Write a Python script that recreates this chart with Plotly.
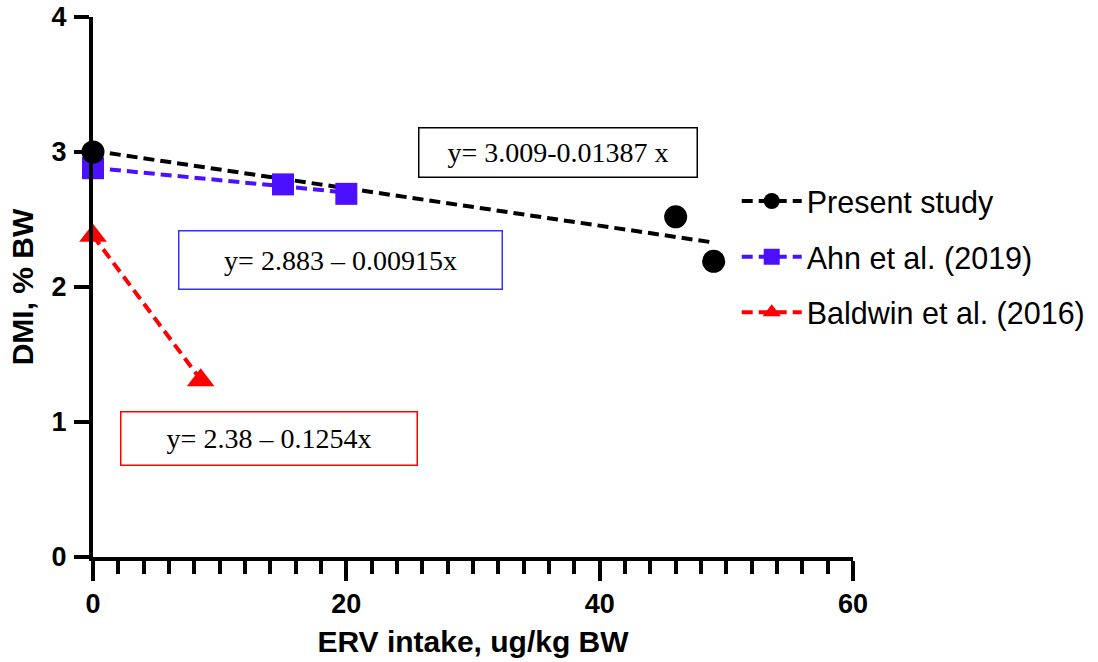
import plotly.graph_objects as go

# ---- data ----
present_x = [0, 46, 49]
present_y = [3.0, 2.52, 2.19]
ahn_x = [0, 15, 20]
ahn_y = [2.88, 2.76, 2.69]
baldwin_x = [0, 8.5]
baldwin_y = [2.38, 1.31]

series_names = ["Present study", "Ahn et al. (2019)", "Baldwin et al. (2016)"]
intercepts = [3.009, 2.883, 2.38]
slopes = [-0.01387, -0.00915, -0.1254]
equations = ["y= 3.009-0.01387 x", "y= 2.883 – 0.00915x", "y= 2.38 – 0.1254x"]

x_ticks = [0, 20, 40, 60]
y_ticks = [0, 1, 2, 3, 4]

colors = ["#000000", "#4a10ff", "#ff0000"]
box_colors = ["#000000", "#3030ff", "#ff0000"]
symbols = ["circle", "square", "triangle-up"]
msizes = [23, 22, 24]

xs = [present_x, ahn_x, baldwin_x]
ys = [present_y, ahn_y, baldwin_y]

fig = go.Figure()

# fit lines
for i in range(3):
    x_end = max(xs[i])
    fx = [0, x_end]
    fy = [intercepts[i] + slopes[i] * v for v in fx]
    fig.add_trace(go.Scatter(
        x=fx, y=fy, mode="lines",
        line=dict(color=colors[i], width=4, dash="11px,6px"),
        showlegend=False, hoverinfo="skip", cliponaxis=False))

# points (draw order: baldwin, ahn, present on top)
for i in [2, 1, 0]:
    fig.add_trace(go.Scatter(
        x=xs[i], y=ys[i], mode="markers",
        marker=dict(symbol=symbols[i], size=msizes[i], color=colors[i]),
        showlegend=False, cliponaxis=False))

# legend entries
for i in range(3):
    fig.add_trace(go.Scatter(
        x=[None], y=[None], mode="lines+markers", name=series_names[i],
        line=dict(color=colors[i], width=4, dash="11px,6px"),
        marker=dict(symbol=symbols[i], size=msizes[i] - 2, color=colors[i]),
        legendgroup=series_names[i]))

# equation boxes
eq_pos = [(36.7, 3.0, 280, 51), (19.5, 2.2, 325, 60), (13.9, 0.878, 298, 55)]
for i in range(3):
    ex, ey, w, h = eq_pos[i]
    fig.add_annotation(
        x=ex, y=ey, xref="x", yref="y", text=equations[i], showarrow=False,
        font=dict(family="Liberation Serif", size=28, color="#000"),
        bordercolor=box_colors[i], borderwidth=1.5, borderpad=0,
        width=w - 3, height=h - 3, bgcolor="rgba(255,255,255,0)")

fig.update_layout(
    width=1098, height=662,
    margin=dict(l=93, r=245, t=17, b=105, autoexpand=False),
    plot_bgcolor="white", paper_bgcolor="white",
    font=dict(family="Liberation Sans", color="#000"),
    legend=dict(x=0.847, y=0.708, xanchor="left", yanchor="top",
                font=dict(size=30.5, family="Liberation Sans"),
                traceorder="grouped", tracegroupgap=13,
                bgcolor="rgba(255,255,255,0)", itemwidth=60),
    showlegend=True,
)

fig.update_xaxes(
    range=[0, 60], tickvals=x_ticks, ticks="outside", ticklen=20, tickwidth=4,
    tickcolor="#000", showline=True, linewidth=4, linecolor="#000",
    showgrid=False, zeroline=False, automargin=False,
    tickfont=dict(size=27, weight="bold", family="Liberation Sans"),
    minor=dict(dtick=2, ticks="outside", ticklen=13, tickwidth=4, tickcolor="#000", showgrid=False),
    title=dict(text="ERV intake, ug/kg BW", font=dict(size=30, weight="bold"), standoff=14),
)
fig.update_yaxes(
    range=[0, 4], tickvals=y_ticks, ticks="outside", ticklen=15, tickwidth=4,
    tickcolor="#000", showline=True, linewidth=4, linecolor="#000",
    showgrid=False, zeroline=False, ticklabelstandoff=2, automargin=False,
    tickfont=dict(size=27, weight="bold", family="Liberation Sans"),
    title=dict(text="DMI, % BW", font=dict(size=30, weight="bold"), standoff=10),
)

fig.write_html("out.html")
